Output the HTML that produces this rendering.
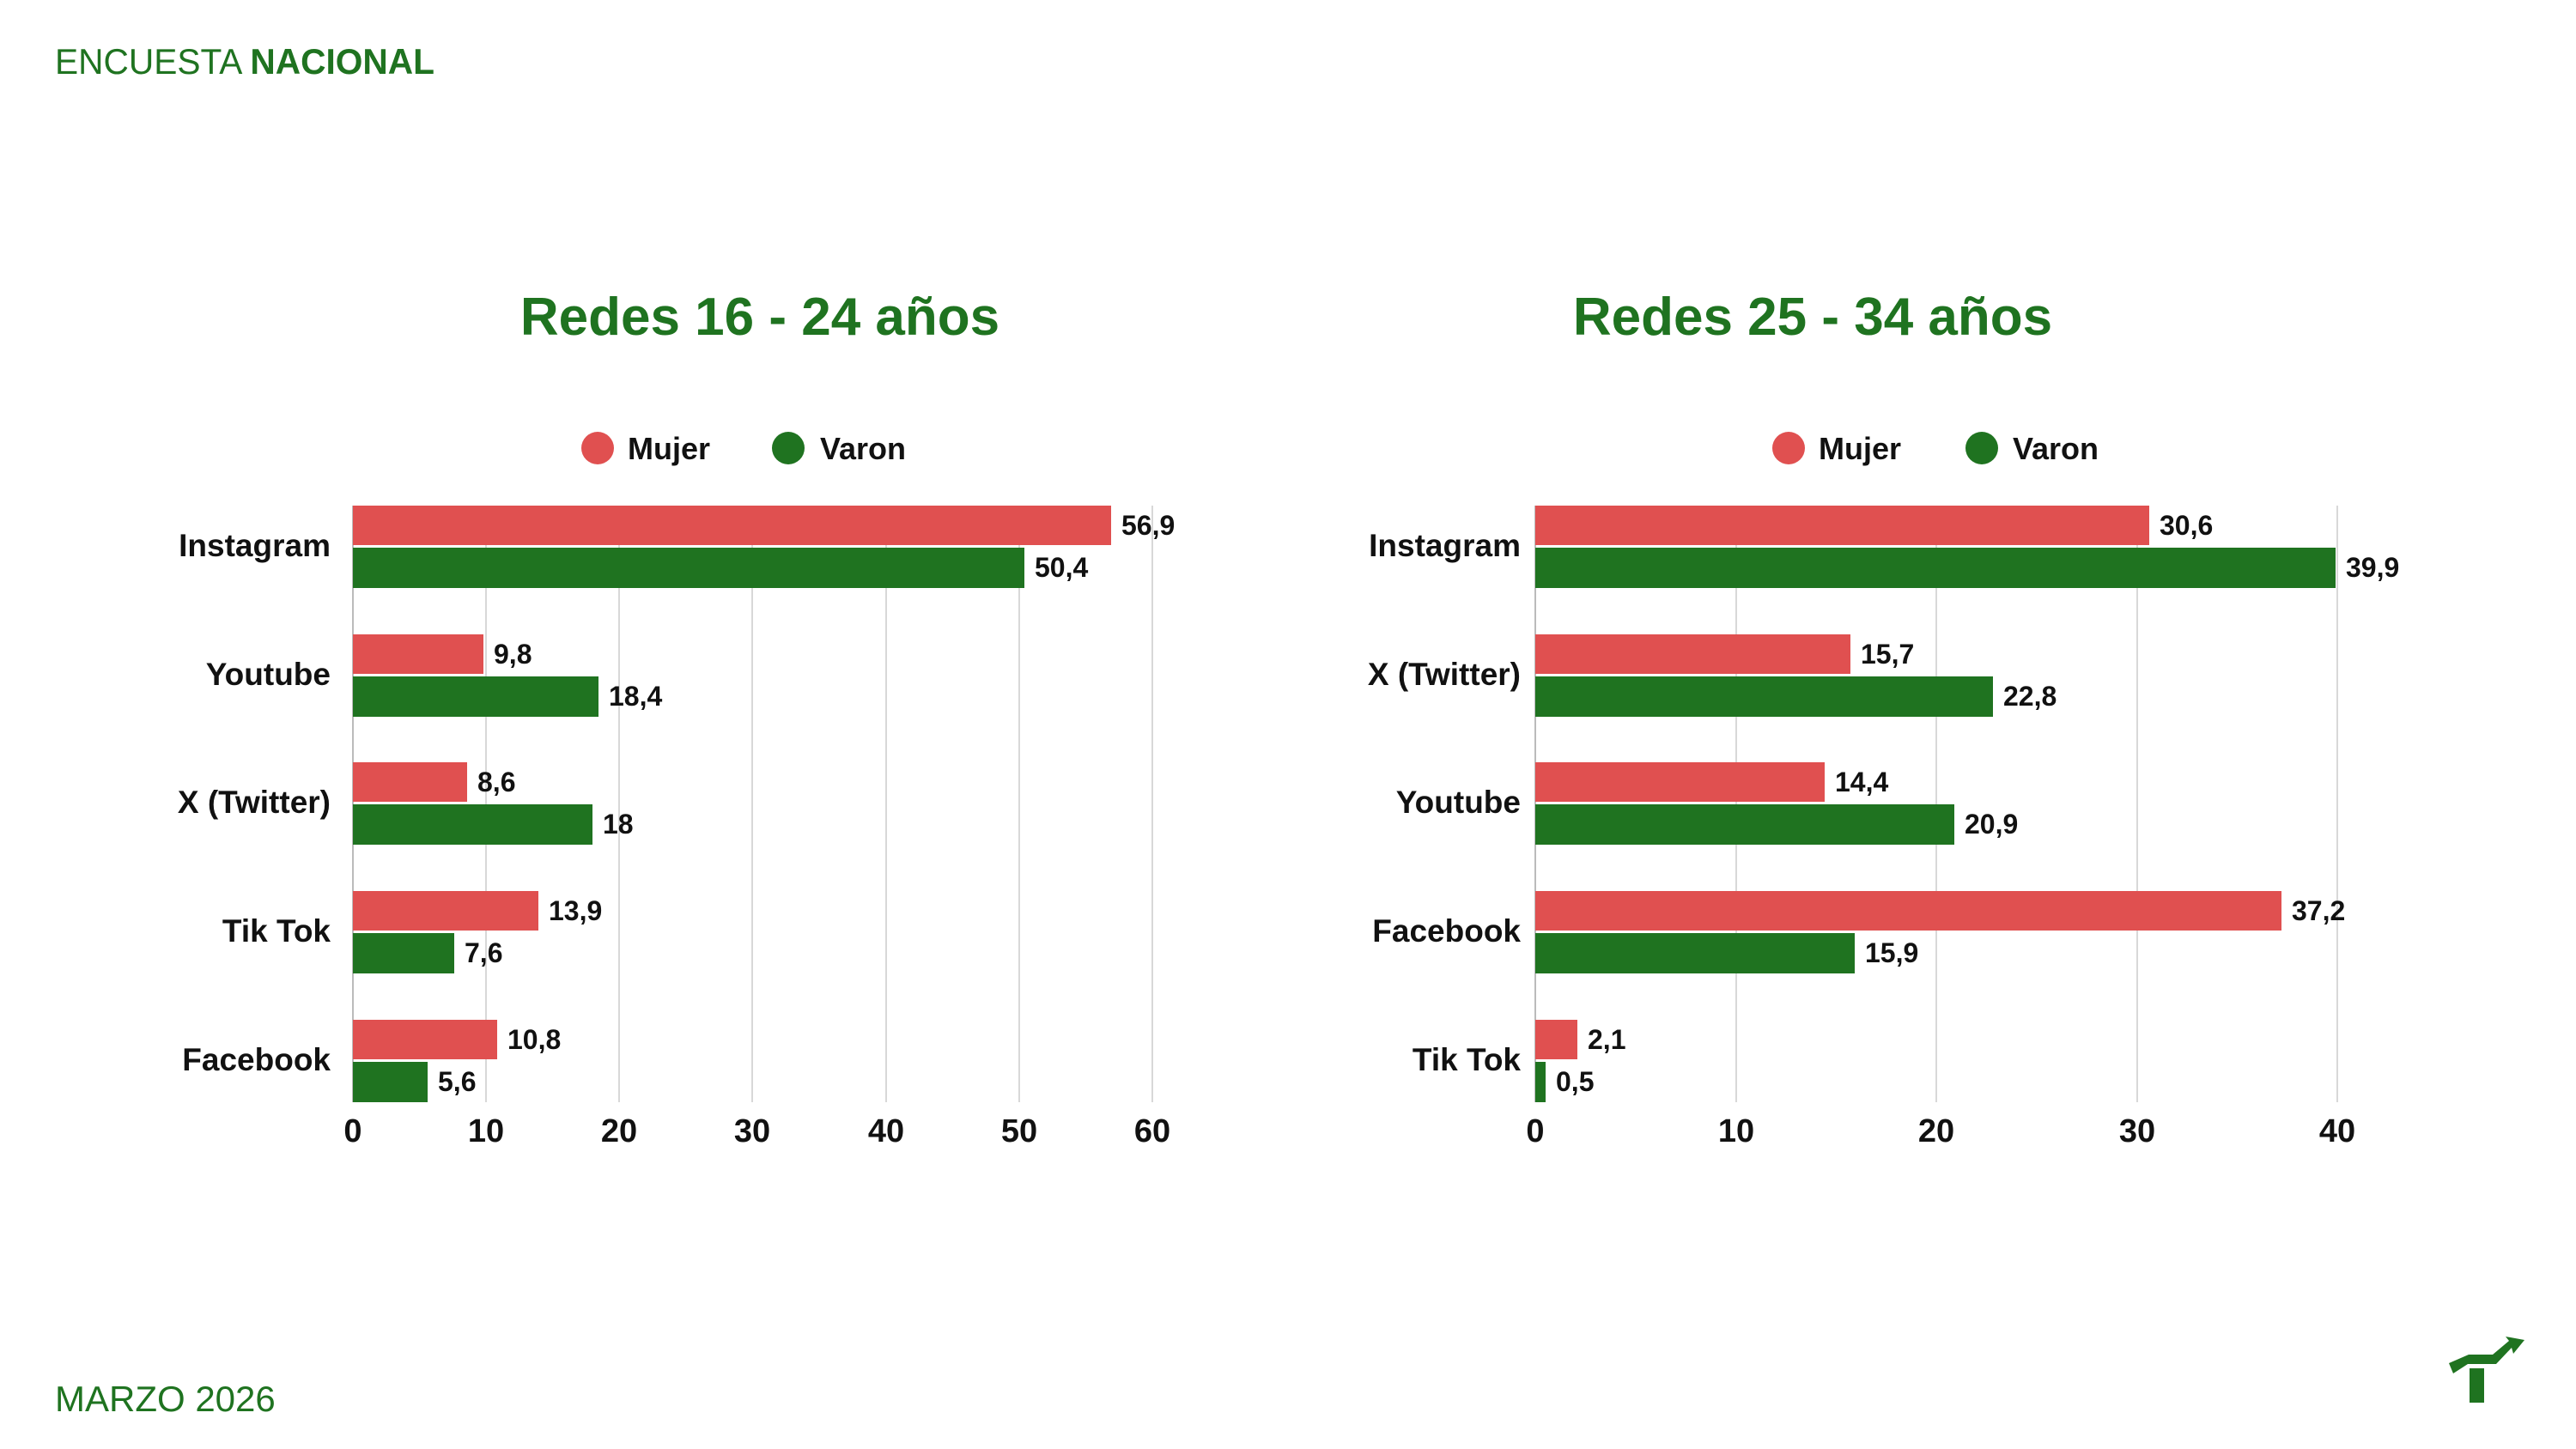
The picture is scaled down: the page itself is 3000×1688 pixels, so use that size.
<!DOCTYPE html>
<html><head><meta charset="utf-8"><style>
html,body{margin:0;padding:0;background:#fff;width:3000px;height:1688px;overflow:hidden}
svg text{font-family:"Liberation Sans",sans-serif}
</style></head><body>
<svg width="3000" height="1688" viewBox="0 0 3000 1688" xmlns="http://www.w3.org/2000/svg">
<rect width="3000" height="1688" fill="#fff"/>
<text x="64" y="86" font-size="42" fill="#1f7320" textLength="442" lengthAdjust="spacingAndGlyphs">ENCUESTA <tspan font-weight="bold">NACIONAL</tspan></text>
<text x="64" y="1644" font-size="42" fill="#1f7320">MARZO 2026</text>
<g fill="#1f7320">
<polygon points="2852,1588 2875,1578 2903,1578 2922,1562 2918,1557 2940,1561 2927,1577 2925,1570 2907,1589 2874,1589 2857,1600"/>
<rect x="2876" y="1594" width="17" height="40"/>
</g>

<!-- LEFT CHART -->
<g font-weight="bold">
<text x="885" y="390" font-size="62" fill="#1f7320" text-anchor="middle">Redes 16 - 24 años</text>
<circle cx="696" cy="522" r="19" fill="#e05050"/><text x="731" y="535" font-size="36" fill="#111">Mujer</text>
<circle cx="918" cy="522" r="19" fill="#1f7320"/><text x="955" y="535" font-size="36" fill="#111">Varon</text>
</g>
<g stroke="#d8d8d8" stroke-width="2">
<line x1="566" y1="589" x2="566" y2="1284"/><line x1="721" y1="589" x2="721" y2="1284"/><line x1="876" y1="589" x2="876" y2="1284"/><line x1="1032" y1="589" x2="1032" y2="1284"/><line x1="1187" y1="589" x2="1187" y2="1284"/><line x1="1342" y1="589" x2="1342" y2="1284"/>
</g>
<line x1="411" y1="589" x2="411" y2="1284" stroke="#bbb" stroke-width="2"/>
<g fill="#e05050">
<rect x="411" y="589" width="883" height="46"/><rect x="411" y="739" width="152" height="46"/><rect x="411" y="888" width="133" height="46"/><rect x="411" y="1038" width="216" height="46"/><rect x="411" y="1188" width="168" height="46"/>
</g>
<g fill="#1f7320">
<rect x="411" y="638" width="782" height="47"/><rect x="411" y="788" width="286" height="47"/><rect x="411" y="937" width="279" height="47"/><rect x="411" y="1087" width="118" height="47"/><rect x="411" y="1237" width="87" height="47"/>
</g>
<g font-size="32" font-weight="bold" fill="#111">
<text x="1306" y="623">56,9</text><text x="1205" y="672">50,4</text>
<text x="575" y="773">9,8</text><text x="709" y="822">18,4</text>
<text x="556" y="922">8,6</text><text x="702" y="971">18</text>
<text x="639" y="1072">13,9</text><text x="541" y="1121">7,6</text>
<text x="591" y="1222">10,8</text><text x="510" y="1271">5,6</text>
</g>
<g font-size="37" font-weight="bold" fill="#111" text-anchor="end">
<text x="385" y="648">Instagram</text><text x="385" y="798">Youtube</text><text x="385" y="947">X (Twitter)</text><text x="385" y="1097">Tik Tok</text><text x="385" y="1247">Facebook</text>
</g>
<g font-size="38" font-weight="bold" fill="#111" text-anchor="middle">
<text x="411" y="1330">0</text><text x="566" y="1330">10</text><text x="721" y="1330">20</text><text x="876" y="1330">30</text><text x="1032" y="1330">40</text><text x="1187" y="1330">50</text><text x="1342" y="1330">60</text>
</g>

<!-- RIGHT CHART -->
<g font-weight="bold">
<text x="2111" y="390" font-size="62" fill="#1f7320" text-anchor="middle">Redes 25 - 34 años</text>
<circle cx="2083" cy="522" r="19" fill="#e05050"/><text x="2118" y="535" font-size="36" fill="#111">Mujer</text>
<circle cx="2308" cy="522" r="19" fill="#1f7320"/><text x="2344" y="535" font-size="36" fill="#111">Varon</text>
</g>
<g stroke="#d8d8d8" stroke-width="2">
<line x1="2022" y1="589" x2="2022" y2="1284"/><line x1="2255" y1="589" x2="2255" y2="1284"/><line x1="2489" y1="589" x2="2489" y2="1284"/><line x1="2722" y1="589" x2="2722" y2="1284"/>
</g>
<line x1="1788" y1="589" x2="1788" y2="1284" stroke="#bbb" stroke-width="2"/>
<g fill="#e05050">
<rect x="1788" y="589" width="715" height="46"/><rect x="1788" y="739" width="367" height="46"/><rect x="1788" y="888" width="337" height="46"/><rect x="1788" y="1038" width="869" height="46"/><rect x="1788" y="1188" width="49" height="46"/>
</g>
<g fill="#1f7320">
<rect x="1788" y="638" width="932" height="47"/><rect x="1788" y="788" width="533" height="47"/><rect x="1788" y="937" width="488" height="47"/><rect x="1788" y="1087" width="372" height="47"/><rect x="1788" y="1237" width="12" height="47"/>
</g>
<g font-size="32" font-weight="bold" fill="#111">
<text x="2515" y="623">30,6</text><text x="2732" y="672">39,9</text>
<text x="2167" y="773">15,7</text><text x="2333" y="822">22,8</text>
<text x="2137" y="922">14,4</text><text x="2288" y="971">20,9</text>
<text x="2669" y="1072">37,2</text><text x="2172" y="1121">15,9</text>
<text x="1849" y="1222">2,1</text><text x="1812" y="1271">0,5</text>
</g>
<g font-size="37" font-weight="bold" fill="#111" text-anchor="end">
<text x="1771" y="648">Instagram</text><text x="1771" y="798">X (Twitter)</text><text x="1771" y="947">Youtube</text><text x="1771" y="1097">Facebook</text><text x="1771" y="1247">Tik Tok</text>
</g>
<g font-size="38" font-weight="bold" fill="#111" text-anchor="middle">
<text x="1788" y="1330">0</text><text x="2022" y="1330">10</text><text x="2255" y="1330">20</text><text x="2489" y="1330">30</text><text x="2722" y="1330">40</text>
</g>
</svg>
</body></html>
